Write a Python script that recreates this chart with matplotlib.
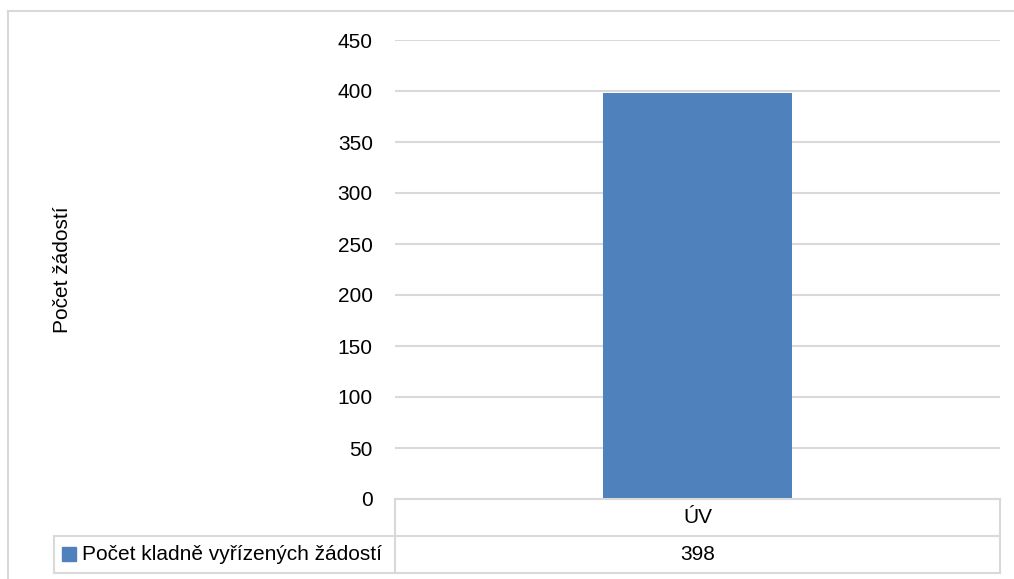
import matplotlib.pyplot as plt
from matplotlib.lines import Line2D
from matplotlib.patches import Rectangle

categories = ['ÚV']
values = [398]
series_name = 'Počet kladně vyřízených žádostí'
y_label = 'Počet žádostí'
y_ticks = [0, 50, 100, 150, 200, 250, 300, 350, 400, 450]

W, H = 1014, 579
bar_color = '#4f81bd'
grid_color = '#d9d9d9'
fs = 15
plt.rcParams['font.family'] = ['Liberation Sans', 'DejaVu Sans']

fig = plt.figure(figsize=(W / 100, H / 100), dpi=100)


def fx(px):
    return px / W


def fy(py):
    return 1 - py / H


# plot area
x0, x1, ytop, ybot = 395, 1000, 40, 499
ax = fig.add_axes([fx(x0), fy(ybot), fx(x1) - fx(x0), fy(ytop) - fy(ybot)])
ax.bar(range(len(categories)), values, width=0.314, color=bar_color, zorder=3)
ax.set_xlim(-0.5, len(categories) - 0.5)
ax.set_ylim(0, 450)
ax.set_yticks(y_ticks)
ax.set_yticklabels([str(t) for t in y_ticks], fontsize=fs)
ax.yaxis.grid(True, color=grid_color, linewidth=1.5, zorder=0)
ax.tick_params(axis='y', length=0, pad=16)
ax.set_xticks([])
for s in ax.spines.values():
    s.set_visible(False)

fig.text(fx(63), fy(270), y_label, rotation=90, ha='center', va='center', fontsize=fs)

# outer chart border
fig.add_artist(Line2D([fx(8), fx(1014)], [fy(11), fy(11)], color=grid_color, lw=1.5))
fig.add_artist(Line2D([fx(8), fx(8)], [fy(11), fy(579)], color=grid_color, lw=1.5))

# data table
r0, r1, r2 = 499, 536, 573
left = 54
tlines = [
    ([x0, x1], [r0, r0]),
    ([left, x1], [r1, r1]),
    ([left, x1], [r2, r2]),
    ([x0, x0], [r0, r2]),
    ([x1, x1], [r0, r2]),
    ([left, left], [r1, r2]),
]
for xs, ys in tlines:
    fig.add_artist(Line2D([fx(v) for v in xs], [fy(v) for v in ys], color=grid_color, lw=1.5))

ncat = len(categories)
colw = (x1 - x0) / ncat
for i, (cat, val) in enumerate(zip(categories, values)):
    cx = x0 + colw * (i + 0.5)
    fig.text(fx(cx), fy((r0 + r1) / 2), cat, ha='center', va='center', fontsize=fs)
    fig.text(fx(cx), fy((r1 + r2) / 2), str(val), ha='center', va='center', fontsize=fs)

fig.add_artist(Rectangle((fx(62), fy(561)), fx(14), fy(547) - fy(561), color=bar_color))
fig.text(fx(82), fy((r1 + r2) / 2), series_name, ha='left', va='center', fontsize=fs)

fig.savefig('out.png', dpi=100)
